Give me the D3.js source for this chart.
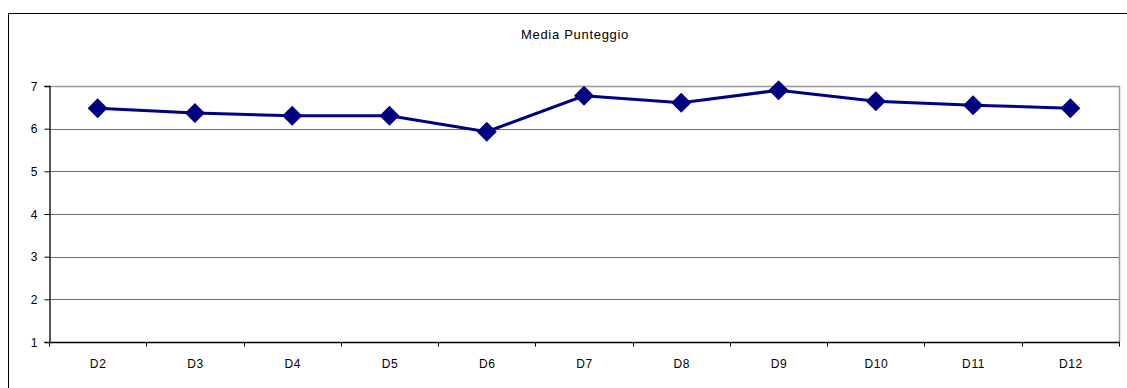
<!DOCTYPE html>
<meta charset="utf-8">
<style>
html,
body {
    margin: 0;
    padding: 0;
    overflow: hidden;
    background: #fff;
}

svg text {
    font-family: "Liberation Sans", Arial, sans-serif;
    font-size: 12px;
    fill: #000;
}
</style>
<svg width="1127" height="388"></svg>
<script src="https://d3js.org/d3.v7.min.js"></script>
<script>
var categories = ["D2", "D3", "D4", "D5", "D6", "D7", "D8", "D9", "D10", "D11", "D12"];
var mediaPunteggio = [6.48, 6.37, 6.30, 6.30, 5.93, 6.77, 6.61, 6.90, 6.64, 6.55, 6.48];
var yTicks = [1, 2, 3, 4, 5, 6, 7];
var title = "Media Punteggio";

var svg = d3.select("svg");

var margin = {left: 49, top: 86, right: 1119, bottom: 342};

// outer chart border (only top and left are visible in the frame)
svg.append("rect")
    .attr("x", 8.5)
    .attr("y", 13.5)
    .attr("width", 1140)
    .attr("height", 400)
    .attr("fill", "none")
    .attr("stroke", "#000")
    .attr("stroke-width", 1);

svg.append("text")
    .attr("x", 575)
    .attr("y", 38.5)
    .attr("text-anchor", "middle")
    .style("font-size", "13px")
    .style("letter-spacing", "0.7px")
    .text(title);

var x = d3.scaleBand()
    .domain(categories)
    .range([margin.left, margin.right]);

var y = d3.scaleLinear()
    .domain([1, 7])
    .range([margin.bottom, margin.top]);

// gridlines
svg.append("g")
    .selectAll("line")
    .data(yTicks.slice(1, -1))
    .enter().append("line")
    .attr("x1", margin.left)
    .attr("x2", margin.right)
    .attr("y1", function(d) { return Math.round(y(d)) + 0.5; })
    .attr("y2", function(d) { return Math.round(y(d)) + 0.5; })
    .attr("stroke", "#6e6e6e")
    .attr("stroke-width", 1);

// plot border top and right (gray)
svg.append("path")
    .attr("d", "M" + margin.left + "," + (margin.top + 0.5) +
        "H" + (margin.right + 0.5) + "V" + margin.bottom)
    .attr("fill", "none")
    .attr("stroke", "#999")
    .attr("stroke-width", 1.5);

// y axis
var yAxis = svg.append("g")
    .attr("transform", "translate(" + (margin.left + 0.5) + ",0)")
    .call(d3.axisLeft(y).tickValues(yTicks).tickSize(5).tickPadding(7).tickFormat(d3.format("d")));
yAxis.select(".domain").attr("stroke", "#000").attr("stroke-width", 1.3);
yAxis.selectAll("text").style("font-size", "12px").attr("dy", "0.35em");

// x axis: ticks between categories
var xAxis = svg.append("g")
    .attr("transform", "translate(0," + (margin.bottom + 0.5) + ")");
xAxis.append("line")
    .attr("x1", margin.left)
    .attr("x2", margin.right + 1)
    .attr("stroke", "#000")
    .attr("stroke-width", 1.3);
xAxis.selectAll("line.tick")
    .data(d3.range(categories.length + 1))
    .enter().append("line")
    .attr("class", "tick")
    .attr("x1", function(i) { return Math.round(margin.left + i * x.step()) + 0.5; })
    .attr("x2", function(i) { return Math.round(margin.left + i * x.step()) + 0.5; })
    .attr("y1", 0)
    .attr("y2", 4)
    .attr("stroke", "#000");
xAxis.selectAll("text")
    .data(categories)
    .enter().append("text")
    .attr("x", function(d) { return x(d) + x.bandwidth() / 2 + 0.5; })
    .attr("y", 25)
    .attr("text-anchor", "middle")
    .style("letter-spacing", "0.6px")
    .text(function(d) { return d; });

var points = categories.map(function(c, i) { return {cat: c, v: mediaPunteggio[i]}; });

var line = d3.line()
    .x(function(d) { return x(d.cat) + x.bandwidth() / 2; })
    .y(function(d) { return y(d.v); });

svg.append("path")
    .datum(points)
    .attr("d", line)
    .attr("fill", "none")
    .attr("stroke", "#000080")
    .attr("stroke-width", 3);

svg.append("g")
    .selectAll("path")
    .data(points)
    .enter().append("path")
    .attr("transform", function(d) {
        return "translate(" + (x(d.cat) + x.bandwidth() / 2) + "," + y(d.v) + ")";
    })
    .attr("d", "M0,-10L10,0L0,10L-10,0Z")
    .attr("fill", "#000080");
</script>
